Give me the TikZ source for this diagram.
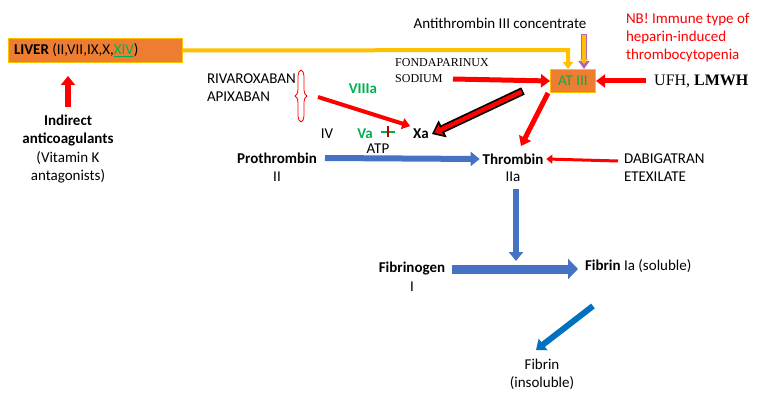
\documentclass[tikz,border=0pt]{standalone}
\usepackage{fontspec}
\setmainfont{Carlito}
\newfontfamily\serifx{Liberation Serif}
\usetikzlibrary{arrows.meta,decorations.pathreplacing}
\definecolor{org}{HTML}{ED7D31}
\definecolor{yel}{HTML}{FFC000}
\definecolor{blu}{HTML}{4472C4}
\definecolor{dblu}{HTML}{0070C0}
\definecolor{grn}{HTML}{00B050}
\definecolor{rd}{HTML}{FF0000}
\tikzset{
 t/.style={font=\fontsize{15}{18}\selectfont, inner sep=0pt, outer sep=3pt, align=center},
 tb/.style={t, font=\fontsize{15}{18}\selectfont\bfseries},
 sf/.style={font=\serifx\fontsize{12}{16}\selectfont, inner sep=0pt, align=left},
 box/.style={draw=yel, fill=org, line width=1pt, inner sep=0pt},
 redarr/.style={draw=rd, line width=5pt, -{Triangle[length=9pt,width=13pt]}},
 bluarr/.style={draw=blu, line width=6pt, -{Triangle[length=9pt,width=14pt]}},
}
\begin{document}
\begin{tikzpicture}[x=1pt,y=-1pt]
\useasboundingbox (0,0) rectangle (758,404);
% liver
\node[box, minimum width=174pt, minimum height=24pt, anchor=north west] (liver) at (8,38) {};
\node[t, anchor=west, outer sep=0pt] (livert) at (14,50) {\textbf{LIVER} (II,VII,IX,X,{\color{grn}\underline{XIV}})};
% AT III
\node[box, minimum width=45pt, minimum height=23pt, font=\fontsize{15}{18}\selectfont] (at) at (573,81) {\color{grn}AT III};
\coordinate (yc) at (568,50);
\draw[yel, line width=4pt, -{Triangle[length=7pt,width=10pt]}] (liver.east) -- (yc) -- (568,69);
\node[t] (atc) at (500,23) {Antithrombin III concentrate};
\coordinate (atcs) at (584,34);
\draw[violet!60, line width=5.5pt, -{Triangle[length=8pt,width=11pt]}] (atcs) -- (584,69);
\draw[yel, line width=3.5pt, shorten >=2pt, -{Triangle[length=5pt,width=8pt]}] (584,35) -- (584,66);
\node[t, text=rd, anchor=north west, align=left, outer sep=0pt] (nb) at (626,13) {NB! Immune type of\\heparin-induced\\thrombocytopenia};
\node[anchor=west, inner sep=0pt, font=\serifx\fontsize{16}{18}\selectfont] (ufh) at (654,81) {UFH, \textbf{LMWH}};
\draw[redarr] (ufh.west) ++(-8,0) -- (at.east);
\node[sf, anchor=west] (fon) at (395,71) {FONDAPARINUX\\SODIUM};
\draw[redarr] (453,79) -- (at.west);
% rivaroxaban
\node[t, align=left, anchor=west, outer sep=0pt] (riv) at (207,88) {RIVAROXABAN\\APIXABAN};
\draw[rd, thick, decorate, decoration={brace, amplitude=6pt}] (301,70) -- (301,122);
\draw[rd, thick, decorate, decoration={brace, mirror, amplitude=6pt}] (301,70) -- (301,122);
\node[tb, text=grn] (viii) at (363,89) {VIIIa};
\node[t] (iv) at (327,134) {IV};
\node[tb, text=grn] (va) at (365,134) {Va};
\node[tb] (xa) at (421,134) {Xa};
\node[t] (atp) at (378,149) {ATP};
\draw[grn, line width=1.5pt] (381,132) -- (395,132);
\draw[rd!70!black, line width=1.5pt] (388,126) -- (388,137);
\draw[rd, line width=4pt, -{Triangle[length=8pt,width=11pt]}] (318,97) -- (xa.north west);
% black outlined arrow
\draw[black, line width=8pt, -{Triangle[length=12pt,width=18pt]}] (523,91) -- (xa.east);
\draw[rd, line width=4.5pt, shorten >=3pt, shorten <=1.5pt, -{Triangle[length=7pt,width=11pt]}] (523,91) -- (xa.east);
% prothrombin / thrombin
\node[tb] (pro) at (277,158) {Prothrombin};
\node[t] (ii) at (277,177) {II};
\node[tb] (thr) at (513,159) {Thrombin};
\node[t] (iia) at (513,177) {IIa};
\draw[bluarr] (325,158) -- (thr.west);
\draw[redarr] (at.south west) ++(-2,0) -- (521,146);
\node[t, align=left, anchor=west, outer sep=0pt] (dab) at (624,168) {DABIGATRAN\\ETEXILATE};
\draw[rd, line width=3pt, -{Triangle[length=6pt,width=9pt]}] (618,161) -- (thr.east);
% fibrin
\node[tb] (fg) at (412,269) {Fibrinogen};
\node[t] (i) at (412,287) {I};
\node[t, anchor=west, outer sep=0pt] (fib) at (585,266) {\textbf{Fibrin} Ia (soluble)};
\draw[bluarr] (516,189) -- (516,261);
\draw[draw=blu, line width=9pt, -{Triangle[length=10pt,width=20pt]}] (452,269) -- (578,269);
\node[t] (fi) at (542,374) {Fibrin\\(insoluble)};
\draw[draw=dblu, line width=6pt, -{Triangle[length=9pt,width=14pt]}] (593,306) -- (536,350);
% indirect
\node[tb] (ind) at (68,131) {Indirect\\anticoagulants};
\node[t] (vk) at (68,167) {(Vitamin K\\antagonists)};
\draw[rd, line width=6pt, -{Triangle[length=9pt,width=14pt]}] (68,107) -- (68,76);
\end{tikzpicture}
\end{document}
